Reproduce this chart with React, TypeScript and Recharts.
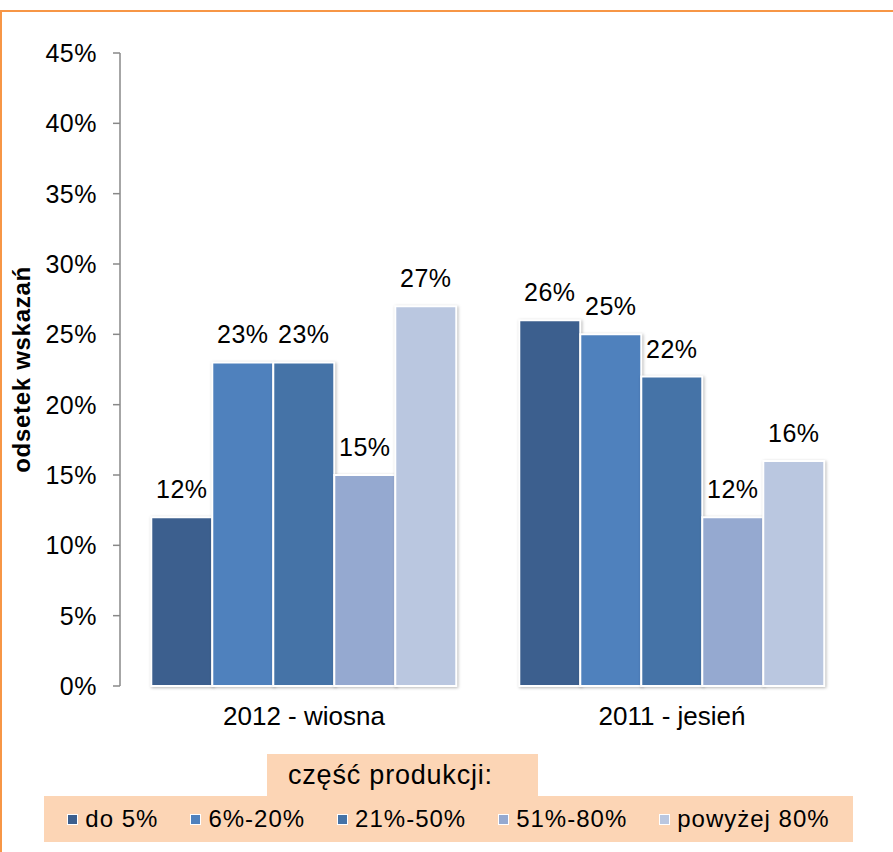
import React from 'react';
import { BarChart, Bar, XAxis, YAxis, LabelList, Label } from 'recharts';

const categories = ['2012 - wiosna', '2011 - jesień'];
const seriesNames = ['do 5%', '6%-20%', '21%-50%', '51%-80%', 'powyżej 80%'];
const seriesColors = ['#3C5F8E', '#4F81BD', '#4573A7', '#95A9D0', '#BAC7E0'];
const do5 = [12, 26];
const od6do20 = [23, 25];
const od21do50 = [23, 22];
const od51do80 = [15, 12];
const powyzej80 = [27, 16];
const yTicks = [0, 5, 10, 15, 20, 25, 30, 35, 40, 45];

const seriesValues = [do5, od6do20, od21do50, od51do80, powyzej80];
const data = categories.map((name, i) => {
  const row: Record<string, string | number> = { name };
  seriesNames.forEach((s, k) => { row[`s${k}`] = seriesValues[k][i]; });
  return row;
});

const FONT = '"Liberation Sans", Arial, sans-serif';
const AXIS = '#888888';

const YLabel = (props: any) => {
  const vb = props.viewBox || {};
  const cx = 21;
  const cy = vb.y + vb.height / 2;
  return (
    <text x={cx} y={cy} transform={`rotate(-90 ${cx} ${cy})`} textAnchor="middle" dominantBaseline="central"
      fontFamily={FONT} fontSize={24} fontWeight="bold" letterSpacing={0.7} fill="#000">
      odsetek wskazań
    </text>
  );
};

export default function App() {
  return (
    <div style={{ position: 'absolute', left: 0, top: 0, width: 893, height: 852, background: '#fff', fontFamily: FONT }}>
      <style>{`.recharts-bar-rectangle path { filter: drop-shadow(1.5px 1.5px 1.5px rgba(0,0,0,0.28)); }`}</style>
      <div style={{ position: 'absolute', left: 0, top: 10, width: 893, height: 842, borderTop: '2.5px solid #F79646', borderLeft: '2.5px solid #F79646', boxSizing: 'border-box' }} />
      <div style={{ position: 'absolute', left: 0, top: 0 }}>
        <BarChart width={893} height={760} data={data} margin={{ top: 53, right: 37, left: 0, bottom: 14 }}
          barCategoryGap="8.5%" barGap={0}>
          <XAxis xAxisId="edge" type="number" domain={[0, 2]} ticks={[0, 1, 2]} height={0}
            tick={false} tickSize={7} stroke={AXIS} axisLine={{ stroke: AXIS, strokeWidth: 1.5 }}
            tickLine={{ stroke: AXIS, strokeWidth: 1.5 }} allowDataOverflow />
          <XAxis xAxisId="cat" dataKey="name" height={60} axisLine={false} tickLine={false} tickSize={0} tickMargin={21}
            tick={{ fill: '#000', fontSize: 26, fontFamily: FONT }} interval={0} />
          <YAxis domain={[0, 45]} ticks={yTicks} width={120} tickSize={7} tickMargin={16} interval={0}
            tickFormatter={(v: number) => `${v}%`} stroke={AXIS}
            axisLine={{ stroke: AXIS, strokeWidth: 1.5 }} tickLine={{ stroke: AXIS, strokeWidth: 1.5 }}
            tick={{ fill: '#000', fontSize: 25, fontFamily: FONT, letterSpacing: 0.5 }}>
            <Label content={YLabel} />
          </YAxis>
          {seriesNames.map((s, k) => (
            <Bar key={s} xAxisId="cat" dataKey={`s${k}`} name={s} fill={seriesColors[k]} stroke="#fff" strokeWidth={2}
              isAnimationActive={false}>
              <LabelList dataKey={`s${k}`} position="top" offset={19} formatter={(v: any) => `${v}%`}
                style={{ fill: '#000', fontSize: 25, fontFamily: FONT, letterSpacing: 0.5 }} />
            </Bar>
          ))}
        </BarChart>
      </div>
      <div style={{ position: 'absolute', left: 267, top: 754, width: 271, height: 42, background: '#FCD5B5',
        display: 'flex', alignItems: 'center', paddingLeft: 21, boxSizing: 'border-box', fontSize: 27, letterSpacing: 0.8, color: '#000' }}>
        część produkcji:
      </div>
      <div style={{ position: 'absolute', left: 44, top: 796, width: 809, height: 46, background: '#FCD5B5',
        display: 'flex', alignItems: 'center', justifyContent: 'center', gap: 32, fontSize: 24, letterSpacing: 1, color: '#000' }}>
        {seriesNames.map((s, k) => (
          <div key={s} style={{ display: 'flex', alignItems: 'center' }}>
            <span style={{ display: 'inline-block', width: 9, height: 9, background: seriesColors[k], border: '1.5px solid #fff', marginRight: 7 }} />
            <span>{s}</span>
          </div>
        ))}
      </div>
    </div>
  );
}
